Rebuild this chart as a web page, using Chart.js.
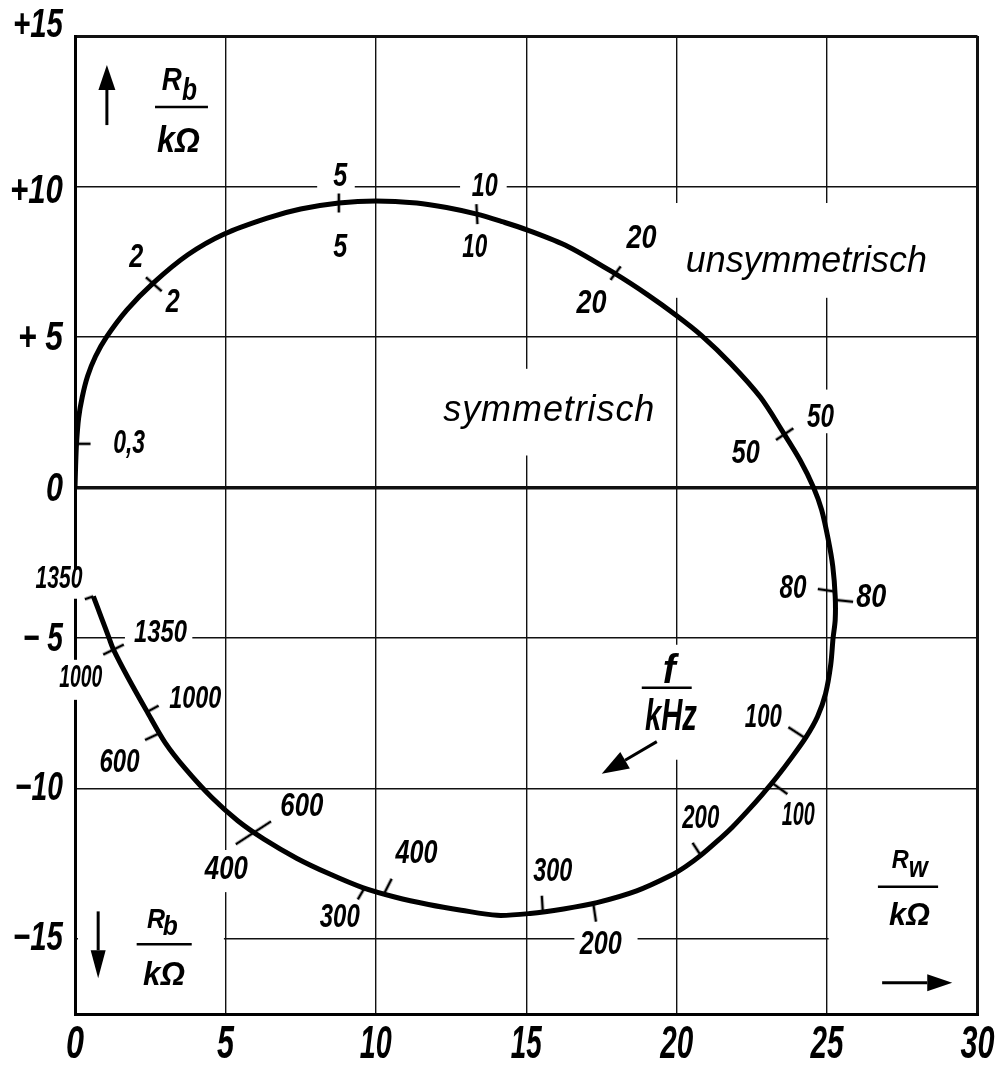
<!DOCTYPE html>
<html><head><meta charset="utf-8">
<script src="https://cdn.jsdelivr.net/npm/chart.js@4.4.1/dist/chart.umd.min.js"></script>
<style>html,body{margin:0;padding:0;background:#fff;}canvas{display:block;}</style>
</head><body>
<canvas id="c" width="1001" height="1071"></canvas>
<script>
const FONT = '"Liberation Sans Narrow", "Liberation Sans", "DejaVu Sans Condensed", sans-serif';

// ---- locus R_w (x) / R_b (y), in kOhm, from low to high frequency ----
const curveRw = [0.00,0.02,0.05,0.12,0.24,0.42,0.68,1.05,1.72,2.59,3.75,4.96,6.39,7.50,8.77,10.00,11.36,12.35,13.36,14.20,15.02,16.40,17.94,19.05,19.98,20.81,21.80,22.78,23.57,24.10,24.55,24.82,25.04,25.19,25.27,25.27,25.20,25.12,24.95,24.68,24.30,23.82,23.35,22.85,22.36,21.84,21.30,20.80,20.30,19.80,18.67,17.35,16.24,15.13,14.03,12.84,11.75,10.66,9.56,8.47,7.38,6.28,5.41,4.54,3.66,3.00,2.40,1.75,1.28,1.13,0.87,0.61];
const curveRb = [0.00,0.70,1.45,2.30,3.00,3.70,4.35,5.00,5.89,6.78,7.73,8.42,8.95,9.25,9.45,9.52,9.45,9.30,9.08,8.83,8.56,8.00,7.11,6.39,5.72,5.06,4.11,3.00,1.78,0.91,0.00,-0.75,-1.74,-2.63,-3.63,-4.40,-5.00,-5.90,-6.85,-7.62,-8.30,-8.98,-9.60,-10.20,-10.75,-11.30,-11.80,-12.23,-12.60,-12.90,-13.41,-13.80,-14.01,-14.16,-14.22,-14.05,-13.86,-13.62,-13.30,-12.85,-12.33,-11.69,-11.08,-10.30,-9.34,-8.49,-7.46,-6.30,-5.39,-5.00,-4.31,-3.62];

// ---- axis ticks ----
const xTickValues = [0,5,10,15,20,25,30];
const xTickLabels = ['0','5','10','15','20','25','30'];
const yTickValues = [-15,-10,-5,0,5,10,15];
const yTickLabels = ['\u221215','\u221210','\u2212 5','0','+ 5','+10','+15'];

// ---- frequency marks on the locus (attachment point on the curve) ----
const markRw = [0.05,2.62,8.77,13.36,17.97,23.59,25.25,25.27,24.27,23.17,20.80,17.23,15.55,10.27,9.62,5.93,2.81,2.40,1.28,0.61];
const markRb = [1.45,6.75,9.45,9.08,7.12,1.77,-3.46,-3.74,-8.33,-9.82,-12.23,-13.84,-14.10,-13.51,-13.32,-11.48,-8.17,-7.46,-5.39,-3.62];
// mark styles: direction (deg, screen), length (px), crossing the curve or one-sided
const markAngle  = [0,41.6,90,87,-53,-34,188.5,6,213,36,237,81.6,266.5,-63,120.5,-33,155,-28.6,-26,161];
const markLength = [14,21,19,20,17,21,17,18,20,19,15,18,16,17,13,42,16,13,23,9];
const markFull   = [0,1,1,1,1,1,0,0,0,0,0,0,0,0,0,1,0,0,1,0];

// ---- frequency labels f/kHz ----
const freqText = ['0,3','2','2','5','5','10','10','20','20','50','50','80','80','100','100','200','200','300','300','400','400','600','600','1000','1000','1350','1350'];
const freqRw = [1.80,2.04,3.25,8.82,8.82,13.62,13.29,18.83,17.17,24.78,22.30,23.87,26.47,22.88,24.04,20.80,17.48,15.88,8.80,11.35,5.03,7.54,1.48,4.00,0.19,2.84,-0.53];
const freqRb = [1.47,7.62,6.13,10.33,7.98,10.00,7.96,8.28,6.11,2.33,1.11,-3.37,-3.67,-7.65,-10.90,-11.02,-15.18,-12.77,-14.30,-12.18,-12.69,-10.62,-9.16,-7.04,-6.33,-4.83,-3.04];
const freqWidth = [32,14,14,14,14,26,25,30,30,27,28,27,30,37,33,37,42,39,40,42,43,43,40,52,43,53,47];

// tick label styles
const yTickWidth = [50,48,40,17,45,53,50];
const yTickNudge = [0,1,2,3,2,6,-10];
const xTickWidth = [18,17,32,31,33,33,34];

// white backings behind labels (x1,x2,y1,y2 in axis units)
const maskBoxes = [
  [8.05,9.3,9.7,10.95],[12.8,14.35,9.7,10.95],[19.85,28.4,6.3,9.45],[12.0,19.6,1.06,3.94],
  [24.25,25.4,1.8,3.25],[1.66,3.9,-4.3,-5.4],[-1.45,0.28,-2.74,-3.7],[-0.65,0.95,-5.73,-7.06],
  [4.2,5.9,-12.05,-13.45],[16.6,18.7,-14.6,-15.8],[18.7,20.6,-5.23,-9.05],
  [0.1,4.95,-13.6,-17.35],[25.05,29.95,-12.0,-17.35]
];

// axis quantity labels: text, x, baseline y, font size, width
const quantityTexts = [
  ['R',3.22,13.21,31,20],['b',3.81,12.87,31,15],['k\u03A9',3.44,11.15,36,43],
  ['R',2.69,-14.63,28,18],['b',3.17,-14.87,28,15],['k\u03A9',2.96,-16.53,34,42],
  ['R',27.43,-12.64,25,17],['w',28.03,-12.94,30,19],['k\u03A9',27.74,-14.53,32,41],
  ['f',19.75,-6.50,40,13],['kHz',19.81,-8.06,44,52]
];
const fractionBars = [[2.66,4.42,12.64],[2.05,3.88,-15.18],[26.69,28.69,-13.27],[18.84,20.50,-6.66]];
const arrows = [[1.06,12.04,1.06,14.04,25,8.5],[0.77,-14.09,0.77,-16.31,28,7.5],[26.83,-16.46,29.16,-16.46,25,8.5],[19.34,-8.45,17.51,-9.52,27,9.5]];
const wordTexts = [['unsymmetrisch',24.31,7.17,36,241],['symmetrisch',15.75,2.19,36,211]];

function markImage(len, full) {
  const c = document.createElement('canvas');
  const w = Math.ceil(full ? len : 2 * len) + 4;
  c.width = w; c.height = 8;
  const g = c.getContext('2d');
  g.strokeStyle = '#000'; g.lineWidth = 2.6;
  g.beginPath();
  const cx = w / 2;
  if (full) { g.moveTo(cx - len / 2, 4); g.lineTo(cx + len / 2, 4); }
  else { g.moveTo(cx, 4); g.lineTo(cx + len, 4); }
  g.stroke();
  return c;
}

function drawText(ctx, str, px, py, size, width, baseline, align, weight) {
  ctx.save();
  ctx.font = 'italic ' + weight + ' ' + size + 'px ' + FONT;
  ctx.textBaseline = baseline;
  ctx.fillStyle = '#000';
  const w = ctx.measureText(str).width;
  ctx.translate(px, py); ctx.scale(width / w, 1);
  ctx.textAlign = align;
  ctx.fillText(str, 0, 0);
  ctx.restore();
}

function drawSpaced(ctx, str, px, py, size, width) {
  ctx.save();
  ctx.font = 'italic ' + size + 'px ' + FONT;
  ctx.textBaseline = 'alphabetic';
  ctx.fillStyle = '#000';
  const chars = [...str];
  const ws = chars.map(ch => ctx.measureText(ch).width);
  const nat = ws.reduce((a, b) => a + b, 0);
  let sx = 1, gap = (width - nat) / (chars.length - 1);
  if (gap < 0) { sx = width / nat; gap = 0; }
  let cur = px - width / 2;
  ctx.textAlign = 'left';
  chars.forEach((ch, i) => {
    ctx.save(); ctx.translate(cur, py); ctx.scale(sx, 1); ctx.fillText(ch, 0, 0); ctx.restore();
    cur += ws[i] * sx + gap;
  });
  ctx.restore();
}

function drawArrow(ctx, x1, y1, x2, y2, head, half) {
  const a = Math.atan2(y2 - y1, x2 - x1);
  const bx = x2 - head * Math.cos(a), by = y2 - head * Math.sin(a);
  ctx.lineWidth = 3;
  ctx.beginPath(); ctx.moveTo(x1, y1); ctx.lineTo(bx, by); ctx.stroke();
  ctx.beginPath(); ctx.moveTo(x2, y2);
  ctx.lineTo(bx + half * Math.sin(a), by - half * Math.cos(a));
  ctx.lineTo(bx - half * Math.sin(a), by + half * Math.cos(a));
  ctx.closePath(); ctx.fill();
}

const annotations = {
  id: 'annotations',
  beforeDatasetsDraw(chart) {
    const { ctx, scales: { x, y } } = chart;
    ctx.save(); ctx.fillStyle = '#fff';
    maskBoxes.forEach(b => {
      const x1 = x.getPixelForValue(b[0]), x2 = x.getPixelForValue(b[1]);
      const y1 = y.getPixelForValue(b[2]), y2 = y.getPixelForValue(b[3]);
      ctx.fillRect(Math.min(x1, x2), Math.min(y1, y2), Math.abs(x2 - x1), Math.abs(y2 - y1));
    });
    ctx.restore();
  },
  afterDatasetsDraw(chart) {
    const { ctx, scales: { x, y } } = chart;
    ctx.save();
    ctx.strokeStyle = '#000'; ctx.fillStyle = '#000';
    freqText.forEach((t, i) => {
      drawText(ctx, t, x.getPixelForValue(freqRw[i]), y.getPixelForValue(freqRb[i]), t.length > 3 ? 32 : 34, freqWidth[i], 'middle', 'center', 'bold');
    });
    wordTexts.forEach(w => drawSpaced(ctx, w[0], x.getPixelForValue(w[1]), y.getPixelForValue(w[2]), w[3], w[4]));
    quantityTexts.forEach(q => drawText(ctx, q[0], x.getPixelForValue(q[1]), y.getPixelForValue(q[2]), q[3], q[4], 'alphabetic', 'center', 'bold'));
    ctx.lineWidth = 2.6;
    fractionBars.forEach(b => {
      const yy = y.getPixelForValue(b[2]);
      ctx.beginPath(); ctx.moveTo(x.getPixelForValue(b[0]), yy); ctx.lineTo(x.getPixelForValue(b[1]), yy); ctx.stroke();
    });
    arrows.forEach(a => drawArrow(ctx, x.getPixelForValue(a[0]), y.getPixelForValue(a[1]), x.getPixelForValue(a[2]), y.getPixelForValue(a[3]), a[4], a[5]));
    ctx.restore();
  },
  afterDraw(chart) {
    // tick labels of the library's axes, narrowed to the drawing's lettering
    const { ctx, scales: { x, y } } = chart;
    y.ticks.forEach(t => {
      const i = yTickValues.indexOf(t.value);
      if (i < 0) return;
      drawText(ctx, yTickLabels[i], y.right - 12, y.getPixelForValue(t.value) + yTickNudge[i], 40, yTickWidth[i], 'middle', 'right', 'bold');
    });
    x.ticks.forEach(t => {
      const i = xTickValues.indexOf(t.value);
      if (i < 0) return;
      drawText(ctx, xTickLabels[i], x.getPixelForValue(t.value), x.top + 31, 46, xTickWidth[i], 'middle', 'center', 'bold');
    });
  }
};

const chart = new Chart(document.getElementById('c'), {
  type: 'scatter',
  data: {
    datasets: [
      {
        label: 'marks',
        data: markRw.map((v, i) => ({ x: v, y: markRb[i] })),
        pointStyle: markLength.map((l, i) => markImage(l, markFull[i])),
        rotation: markAngle,
        pointRadius: 3,
        showLine: false
      },
      {
        label: 'Ortskurve',
        data: curveRw.map((v, i) => ({ x: v, y: curveRb[i] })),
        showLine: true,
        borderColor: '#000',
        borderWidth: 5,
        tension: 0.3,
        pointRadius: 0,
        borderCapStyle: 'butt',
        borderJoinStyle: 'round'
      }
    ]
  },
  options: {
    responsive: false,
    animation: false,
    events: [],
    layout: { padding: { top: 36, right: 23.5, left: 0, bottom: 0 } },
    plugins: { legend: { display: false }, tooltip: { enabled: false } },
    scales: {
      x: {
        type: 'linear', min: 0, max: 30,
        afterBuildTicks: s => { s.ticks = xTickValues.map(v => ({ value: v })); },
        afterFit: s => { s.height = 57; },
        ticks: { display: false, autoSkip: false },
        grid: {
          color: '#111', drawTicks: false,
          lineWidth: c => (c.tick && (c.tick.value === 30 || c.tick.value === 0)) ? 3 : 1.4
        },
        border: { display: true, color: '#000', width: 3 }
      },
      y: {
        type: 'linear', min: -17.5, max: 15,
        afterBuildTicks: s => { s.ticks = yTickValues.map(v => ({ value: v })); },
        afterFit: s => { s.width = 75; },
        ticks: { display: false, autoSkip: false },
        grid: {
          color: '#111', drawTicks: false,
          lineWidth: c => !c.tick ? 1.4 : (c.tick.value === 0 ? 3.5 : (c.tick.value === 15 ? 3 : 1.4))
        },
        border: { display: true, color: '#000', width: 3 }
      }
    }
  },
  plugins: [annotations]
});
</script>
</body></html>
